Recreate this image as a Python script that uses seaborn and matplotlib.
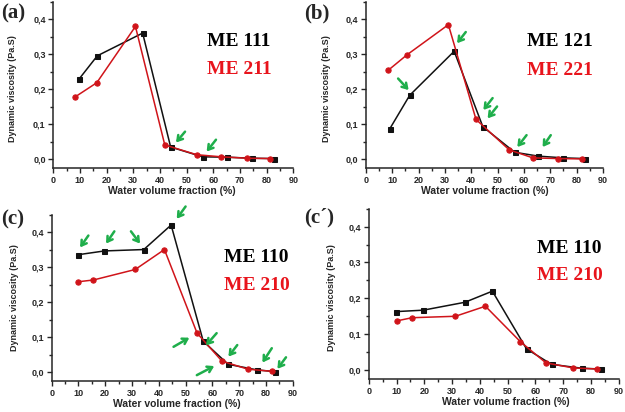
import numpy as np
import pandas as pd
import seaborn as sns
import matplotlib.pyplot as plt
from matplotlib.ticker import MultipleLocator, FuncFormatter

# Dados (fração volumétrica de água %, viscosidade Pa.S)
a_x_black = [9.6, 16.5, 33.5, 44.0, 56.0, 65.0, 74.5, 82.8]
a_y_black = [0.229, 0.296, 0.361, 0.035, 0.007, 0.006, 0.003, 0.002]
a_x_red = [8.3, 16.3, 30.8, 41.8, 53.8, 63.0, 72.8, 81.2]
a_y_red = [0.179, 0.219, 0.380, 0.041, 0.013, 0.007, 0.003, 0.002]

b_x_black = [9.1, 16.6, 33.5, 44.4, 56.5, 65.5, 75.0, 83.3]
b_y_black = [0.088, 0.183, 0.309, 0.093, 0.020, 0.009, 0.004, 0.002]
b_x_red = [8.5, 15.6, 31.3, 41.8, 54.4, 63.4, 73.1, 81.9]
b_y_red = [0.255, 0.299, 0.385, 0.114, 0.027, 0.004, 0.002, 0.001]

c_x_black = [9.7, 19.7, 34.4, 44.6, 56.6, 65.9, 76.7, 83.5]
c_y_black = [0.336, 0.347, 0.351, 0.421, 0.089, 0.023, 0.007, 0.002]
c_x_red = [10.0, 15.6, 31.2, 42.1, 54.3, 63.6, 73.3, 82.2]
c_y_red = [0.259, 0.264, 0.294, 0.351, 0.112, 0.032, 0.009, 0.003]

d_x_black = [9.8, 19.6, 34.6, 44.5, 56.8, 65.8, 76.8, 83.6]
d_y_black = [0.163, 0.167, 0.189, 0.220, 0.059, 0.016, 0.005, 0.003]
d_x_red = [10.0, 15.6, 31.2, 42.0, 54.6, 63.8, 73.6, 82.2]
d_y_red = [0.137, 0.146, 0.150, 0.178, 0.079, 0.020, 0.006, 0.003]

# setas verdes: (x_cauda, y_cauda, x_ponta, y_ponta)
a_arrows = [(49.4, 0.079, 46.0, 0.048), (61.0, 0.056, 57.5, 0.022)]
b_arrows = [(37.9, 0.364, 34.6, 0.332), (12.2, 0.231, 16.2, 0.198),
            (48.1, 0.175, 44.6, 0.141), (49.8, 0.151, 46.2, 0.117),
            (61.0, 0.069, 57.5, 0.035), (70.2, 0.069, 67.1, 0.035)]
c_arrows = [(13.7, 0.391, 10.6, 0.357), (23.4, 0.403, 20.3, 0.368),
            (29.6, 0.403, 33.0, 0.368), (50.0, 0.474, 46.7, 0.439),
            (45.5, 0.073, 51.4, 0.099), (61.6, 0.112, 57.6, 0.077),
            (69.3, 0.078, 66.0, 0.045), (54.2, -0.008, 60.7, 0.018),
            (82.2, 0.069, 78.7, 0.028), (87.5, 0.043, 84.3, 0.010)]

sns.set_style('ticks')
plt.rcParams['font.family'] = ['Liberation Sans', 'DejaVu Sans']

BLACK = '#111111'
RED = '#d0141a'
GREEN = '#1fae4b'

fig = plt.figure(figsize=(6.25, 4.12), dpi=100)

panels = [
    # posição do eixo, dados, setas, rótulos, posição do texto, rótulo do eixo y, rótulo do eixo x
    ([0.0853, 0.5922, 0.384, 0.403], (a_x_black, a_y_black, a_x_red, a_y_red), a_arrows,
     ('ME 111', 'ME 211'), (0.64, 0.76, 0.596), (-0.172, 0.476), (0.495, -0.139)),
    ([0.5856, 0.5922, 0.379, 0.403], (b_x_black, b_y_black, b_x_red, b_y_red), b_arrows,
     ('ME 121', 'ME 221'), (0.68, 0.76, 0.59), (-0.165, 0.476), (0.50, -0.139)),
    ([0.0827, 0.075, 0.3856, 0.4034], (c_x_black, c_y_black, c_x_red, c_y_red), c_arrows,
     ('ME 110', 'ME 210'), (0.715, 0.746, 0.578), (-0.156, 0.5), (0.52, -0.135)),
    ([0.590, 0.0800, 0.40, 0.4135], (d_x_black, d_y_black, d_x_red, d_y_red), [],
     ('ME 110', 'ME 210'), (0.673, 0.767, 0.61), (-0.147, 0.477), (0.55, -0.135)),
]

comma = FuncFormatter(lambda v, p: ('%.1f' % v).replace('.', ','))

for rect, (xb, yb, xr, yr), arrows, names, tpos, ylpos, xlpos in panels:
    ax = fig.add_axes(rect)
    sns.lineplot(x=xb, y=yb, ax=ax, color=BLACK, marker='s', markersize=3.6,
                 markeredgecolor=BLACK, linewidth=1.1, sort=False)
    sns.lineplot(x=xr, y=yr, ax=ax, color=RED, marker='o', markersize=3.8,
                 markeredgecolor=RED, linewidth=1.1, sort=False)
    ax.set_xlim(0, 90)
    ax.set_ylim(-0.025, 0.45)
    ax.xaxis.set_major_locator(MultipleLocator(10))
    ax.xaxis.set_minor_locator(MultipleLocator(5))
    ax.yaxis.set_major_locator(MultipleLocator(0.1))
    ax.yaxis.set_minor_locator(MultipleLocator(0.05))
    ax.yaxis.set_major_formatter(comma)
    ax.tick_params(which='major', direction='out', length=3.5, width=1, labelsize=6.5, pad=2)
    ax.tick_params(which='minor', direction='out', length=2, width=1)
    for lab in ax.get_xticklabels() + ax.get_yticklabels():
        lab.set_fontweight('bold')
    for s in ['top', 'right']:
        ax.spines[s].set_visible(False)
    for s in ['left', 'bottom']:
        ax.spines[s].set_linewidth(1.1)
    ax.set_ylabel('Dynamic viscosity (Pa.S)', fontsize=6.5, fontweight='bold',
                  va='center', ha='center')
    ax.set_xlabel('Water volume fraction (%)', fontsize=7.5, fontweight='bold',
                  va='center', ha='center')
    ax.yaxis.set_label_coords(*ylpos)
    ax.xaxis.set_label_coords(*xlpos)
    ax.text(tpos[0], tpos[1], names[0], transform=ax.transAxes, color='black',
            fontsize=14, fontweight='bold', family='Liberation Serif', va='center')
    ax.text(tpos[0], tpos[2], names[1], transform=ax.transAxes, color='#e8141c',
            fontsize=14, fontweight='bold', family='Liberation Serif', va='center')
    for x0, y0, x1, y1 in arrows:
        ax.annotate('', xy=(x1, y1), xytext=(x0, y0), annotation_clip=False,
                    arrowprops=dict(arrowstyle='->,head_length=0.35,head_width=0.22',
                                    color=GREEN, lw=1.8, shrinkA=0, shrinkB=0))

for txt, x, y in [('(a)', 0.002, 0.968), ('(b)', 0.487, 0.968),
                  ('(c)', 0.002, 0.468), ('(c´)', 0.487, 0.471)]:
    fig.text(x, y, txt, fontsize=15, fontweight='bold', family='Liberation Serif', va='center')

plt.savefig('out.png', dpi=100)
